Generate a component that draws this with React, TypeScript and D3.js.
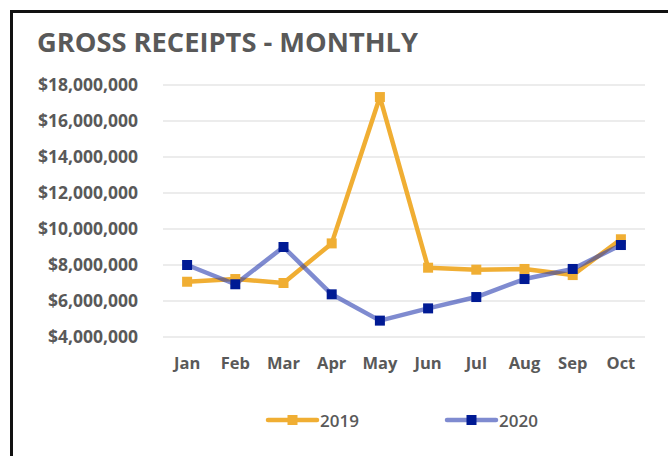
import { useEffect, useRef } from "react";
import * as d3 from "d3";

const months = ["Jan", "Feb", "Mar", "Apr", "May", "Jun", "Jul", "Aug", "Sep", "Oct"];
const receipts2019 = [7070000, 7220000, 7000000, 9200000, 17330000, 7850000, 7740000, 7780000, 7440000, 9430000];
const receipts2020 = [8000000, 6930000, 9000000, 6370000, 4910000, 5590000, 6220000, 7220000, 7780000, 9110000];
const yTicks = [4000000, 6000000, 8000000, 10000000, 12000000, 14000000, 16000000, 18000000];

const W = 668;
const H = 456;
const FONT = "Open Sans, sans-serif";
const GREY = "#595959";

export default function App() {
  const svgRef = useRef<SVGSVGElement>(null);

  useEffect(() => {
    if (!svgRef.current) return;
    const svg = d3.select(svgRef.current);
    svg.selectAll("*").remove();

    svg.append("rect").attr("width", W).attr("height", H).attr("fill", "white");

    // frame (only left and top visible)
    svg
      .append("rect")
      .attr("x", 11.5)
      .attr("y", 11.5)
      .attr("width", W + 20)
      .attr("height", H + 20)
      .attr("fill", "none")
      .attr("stroke", "#111")
      .attr("stroke-width", 3);

    svg
      .append("text")
      .attr("x", 37)
      .attr("y", 52)
      .attr("font-family", FONT)
      .attr("font-weight", 700)
      .attr("font-size", 26)
      .attr("fill", GREY)
      .attr("textLength", 381)
      .attr("lengthAdjust", "spacingAndGlyphs")
      .text("GROSS RECEIPTS - MONTHLY");

    const x = d3.scaleBand().domain(months).range([163, 645]);
    const y = d3.scaleLinear().domain([4000000, 18000000]).range([337, 85]);
    const fmt = d3.format("$,.0f");

    const g = svg.append("g");

    g.selectAll(".grid")
      .data(yTicks)
      .enter()
      .append("line")
      .attr("x1", 163)
      .attr("x2", 645)
      .attr("y1", (d) => y(d))
      .attr("y2", (d) => y(d))
      .attr("stroke", "#d9d9d9")
      .attr("stroke-width", 1.2);

    g.selectAll(".ylab")
      .data(yTicks)
      .enter()
      .append("text")
      .attr("x", 138)
      .attr("y", (d) => y(d) + 6)
      .attr("text-anchor", "end")
      .attr("font-family", FONT)
      .attr("font-weight", 700)
      .attr("font-size", 17.5)
      .attr("fill", GREY)
      .text((d) => fmt(d));

    g.selectAll(".xlab")
      .data(months)
      .enter()
      .append("text")
      .attr("x", (d) => (x(d) as number) + x.bandwidth() / 2)
      .attr("y", 369)
      .attr("text-anchor", "middle")
      .attr("font-family", FONT)
      .attr("font-weight", 700)
      .attr("font-size", 16.5)
      .attr("fill", GREY)
      .text((d) => d);

    const cx = (i: number) => (x(months[i]) as number) + x.bandwidth() / 2;
    const line = d3
      .line<number>()
      .x((_, i) => cx(i))
      .y((d) => y(d));

    const series = [
      { values: receipts2019, stroke: "#F0AE33", opacity: 1, marker: "#F0AE33" },
      { values: receipts2020, stroke: "#2a3eb1", opacity: 0.6, marker: "#001A94" },
    ];

    const ms = 10;
    series.forEach((s) => {
      g.append("path")
        .attr("d", line(s.values))
        .attr("fill", "none")
        .attr("stroke", s.stroke)
        .attr("stroke-opacity", s.opacity)
        .attr("stroke-width", 4.5)
        .attr("stroke-linejoin", "round");
    });
    series.forEach((s) => {
      g.selectAll(null)
        .data(s.values)
        .enter()
        .append("rect")
        .attr("x", (_, i) => cx(i) - ms / 2)
        .attr("y", (d) => y(d) - ms / 2)
        .attr("width", ms)
        .attr("height", ms)
        .attr("fill", s.marker);
    });

    // legend
    const legend = [
      { label: "2019", x0: 268, ...series[0] },
      { label: "2020", x0: 447, ...series[1] },
    ];
    legend.forEach((l) => {
      const lg = svg.append("g");
      lg.append("line")
        .attr("x1", l.x0)
        .attr("x2", l.x0 + 49)
        .attr("y1", 420)
        .attr("y2", 420)
        .attr("stroke", l.stroke)
        .attr("stroke-opacity", l.opacity)
        .attr("stroke-width", 4.5)
        .attr("stroke-linecap", "round");
      lg.append("rect")
        .attr("x", l.x0 + 24.5 - ms / 2)
        .attr("y", 420 - ms / 2)
        .attr("width", ms)
        .attr("height", ms)
        .attr("fill", l.marker);
      lg.append("text")
        .attr("x", l.x0 + 52)
        .attr("y", 426.5)
        .attr("font-family", FONT)
        .attr("font-weight", 600)
        .attr("font-size", 17)
        .attr("fill", GREY)
        .text(l.label);
    });
  }, []);

  return (
    <svg
      ref={svgRef}
      width={W}
      height={H}
      style={{ position: "absolute", left: 0, top: 0 }}
    />
  );
}
